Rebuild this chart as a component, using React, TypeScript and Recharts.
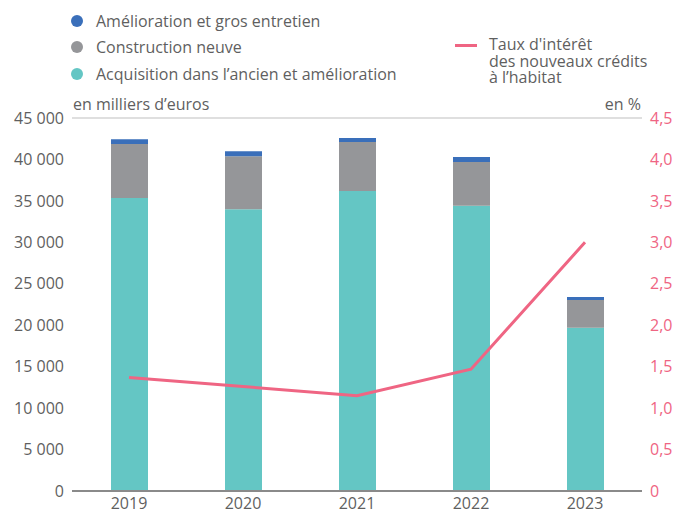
import React from "react";
import { ComposedChart, Bar, Line, XAxis, YAxis, CartesianGrid } from "recharts";

const years = ["2019", "2020", "2021", "2022", "2023"];
const acquisition = [35350, 34000, 36200, 34400, 19700];
const construction = [6500, 6400, 5900, 5300, 3350];
const amelioration = [600, 600, 500, 600, 350];
const taux = [1.37, 1.26, 1.15, 1.47, 3.0];
const leftTicks = [0, 5000, 10000, 15000, 20000, 25000, 30000, 35000, 40000, 45000];
const rightTicks = [0, 0.5, 1, 1.5, 2, 2.5, 3, 3.5, 4, 4.5];

const data = years.map((y, i) => ({
  year: y,
  acq: acquisition[i],
  cons: construction[i],
  amel: amelioration[i],
  taux: taux[i],
}));

const FONT = "'Open Sans', sans-serif";
const TEXT = "#5f5f5f";
const PINK = "#ef6583";
const TEAL = "#64c6c4";
const GREY = "#959699";
const BLUE = "#3a6fba";
const FS = 16;

const fmtLeft = (v: number) =>
  v === 0 ? "0" : String(v).replace(/\B(?=(\d{3})+(?!\d))/g, "\u00a0");
const fmtRight = (v: number) => (v === 0 ? "0" : v.toFixed(1).replace(".", ","));

const legendItems = [
  { label: "Amélioration et gros entretien", color: BLUE, top: 11 },
  { label: "Construction neuve", color: GREY, top: 37 },
  { label: "Acquisition dans l\u2019ancien et amélioration", color: TEAL, top: 64 },
];

export default function App() {
  return (
    <div style={{ position: "absolute", left: 0, top: 0, width: 676, height: 513, fontFamily: FONT, background: "#fff" }}>
      {legendItems.map((it) => (
        <div key={it.label} style={{ position: "absolute", left: 71, top: it.top, display: "flex", alignItems: "center", fontSize: FS, color: TEXT, whiteSpace: "nowrap", lineHeight: "20px" }}>
          <span style={{ display: "inline-block", width: 12, height: 12, borderRadius: 6, background: it.color, marginRight: 13 }} />
          {it.label}
        </div>
      ))}
      <div style={{ position: "absolute", left: 455, top: 44, width: 22, height: 3, background: PINK }} />
      <div style={{ position: "absolute", left: 489, top: 36, fontSize: FS, color: TEXT, lineHeight: "16.5px", whiteSpace: "nowrap" }}>
        Taux d'intérêt<br />des nouveaux crédits<br />à l’habitat
      </div>
      <div style={{ position: "absolute", left: 73, top: 94, fontSize: FS, color: TEXT, lineHeight: "20px" }}>en milliers d’euros</div>
      <div style={{ position: "absolute", right: 676 - 641, top: 94, fontSize: FS, color: TEXT, lineHeight: "20px" }}>en %</div>
      <ComposedChart width={676} height={513} data={data} margin={{ top: 118, right: 0, bottom: 0, left: 0 }} style={{ position: "absolute", left: 0, top: 0 }}>
        <CartesianGrid vertical={false} stroke="#d4d4d4" strokeWidth={1.5} />
        <XAxis dataKey="year" height={22} tickLine={false} axisLine={{ stroke: "#8a8a8a", strokeWidth: 2 }} tick={{ fill: TEXT, fontSize: FS, fontFamily: FONT }} tickMargin={1} />
        <YAxis yAxisId="l" orientation="left" width={72} domain={[0, 45000]} ticks={leftTicks} tickFormatter={fmtLeft} axisLine={false} tickLine={false} tick={{ fill: TEXT, fontSize: FS, fontFamily: FONT }} tickMargin={2} interval={0} />
        <YAxis yAxisId="r" orientation="right" width={34} domain={[0, 4.5]} ticks={rightTicks} tickFormatter={fmtRight} axisLine={false} tickLine={false} tick={{ fill: PINK, fontSize: FS, fontFamily: FONT }} tickMargin={2} interval={0} />
        <Bar yAxisId="l" dataKey="acq" stackId="a" fill={TEAL} barSize={37} isAnimationActive={false} />
        <Bar yAxisId="l" dataKey="cons" stackId="a" fill={GREY} barSize={37} isAnimationActive={false} />
        <Bar yAxisId="l" dataKey="amel" stackId="a" fill={BLUE} barSize={37} isAnimationActive={false} />
        <Line yAxisId="r" dataKey="taux" stroke={PINK} strokeWidth={3} dot={false} type="linear" isAnimationActive={false} />
      </ComposedChart>
    </div>
  );
}
